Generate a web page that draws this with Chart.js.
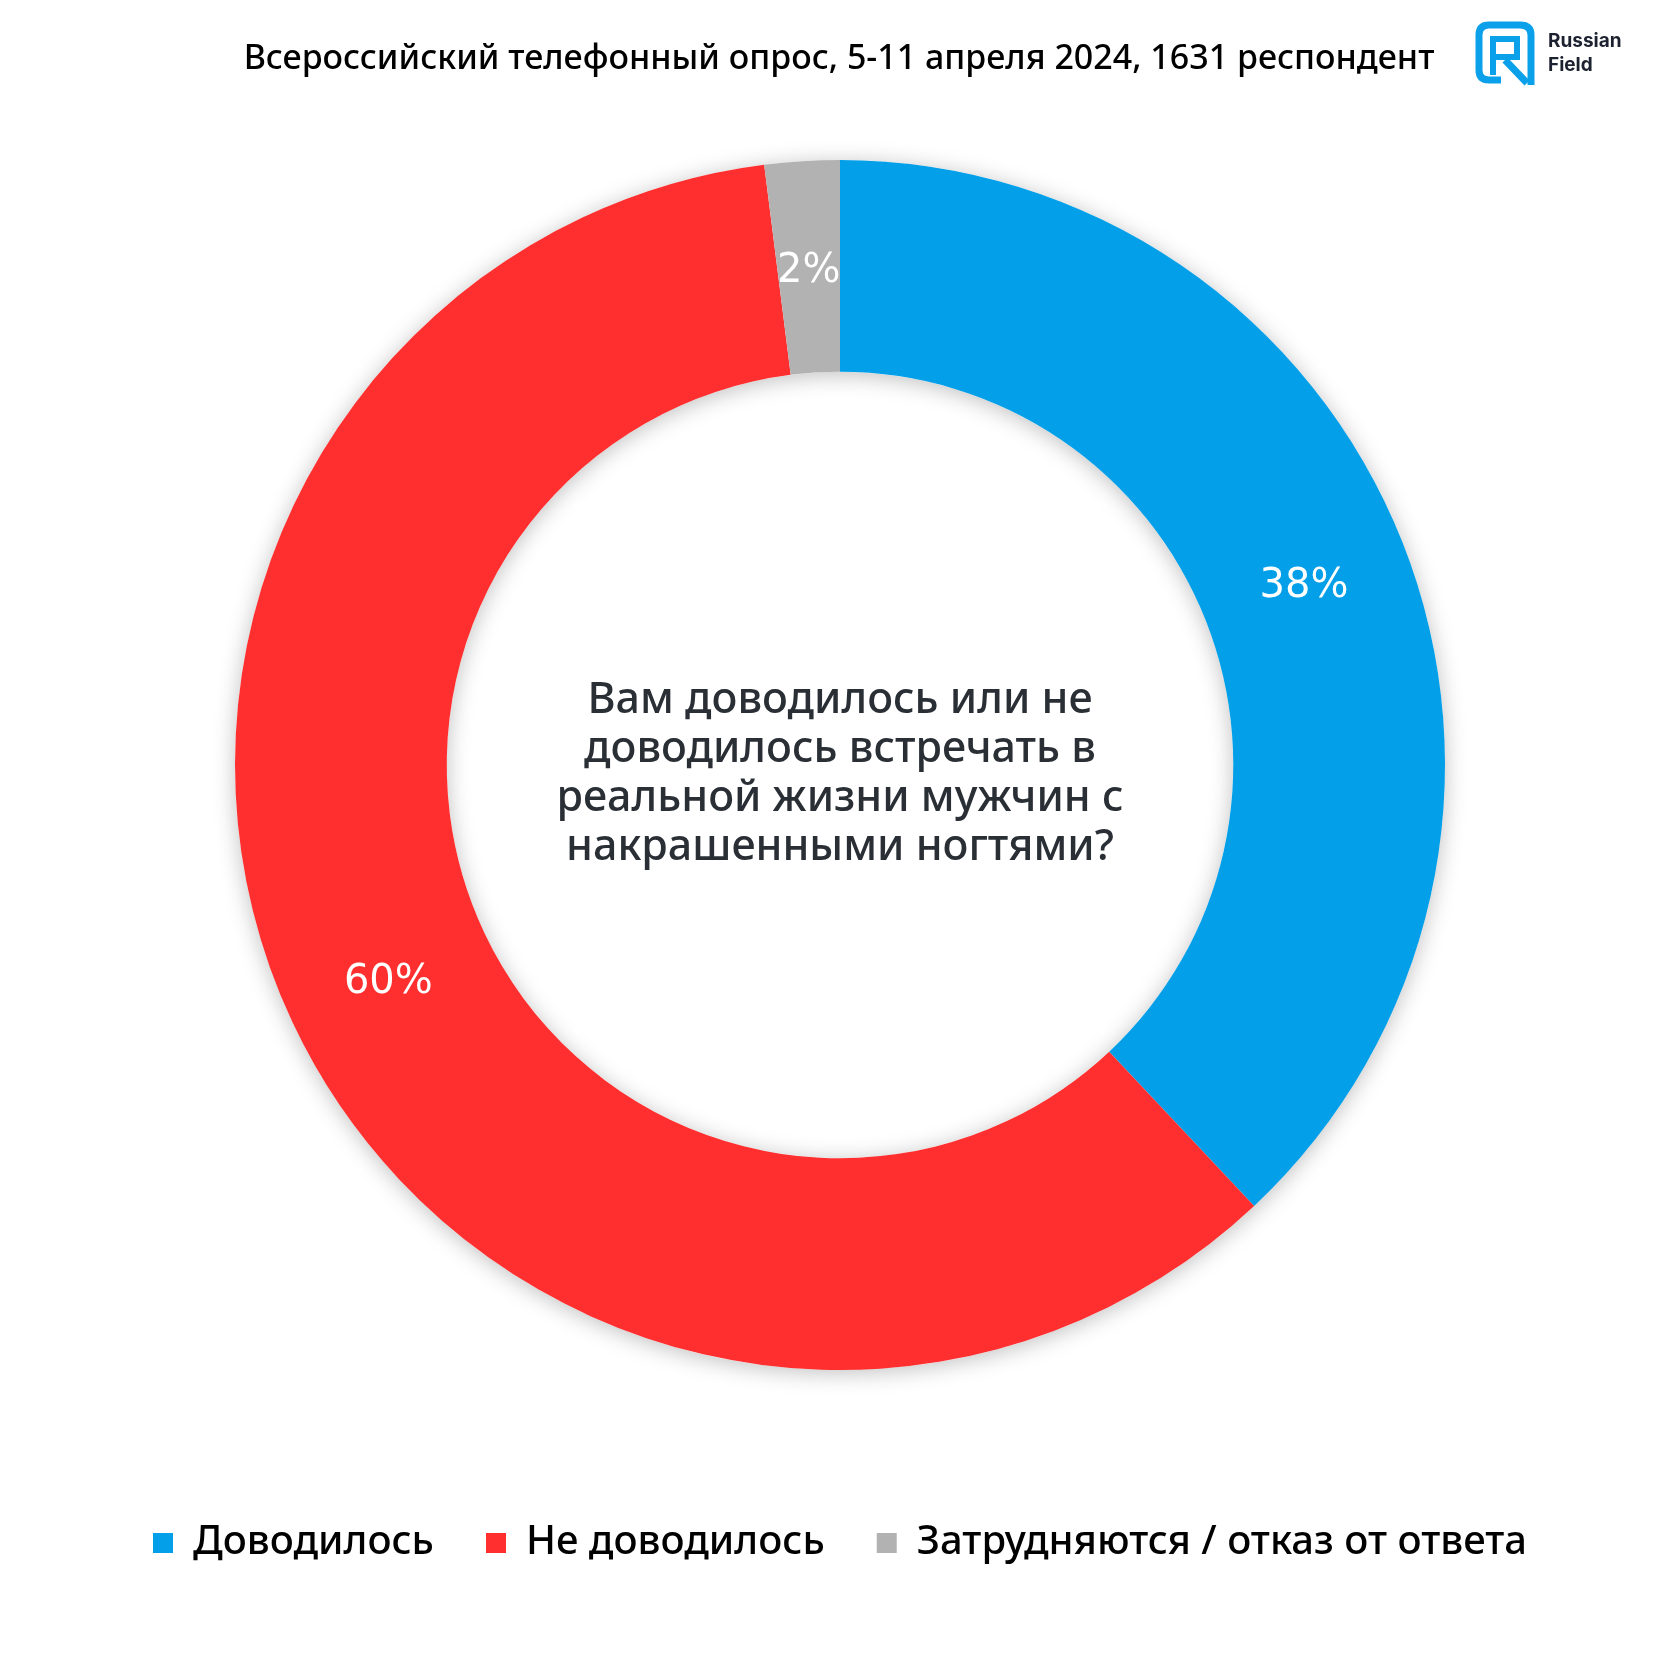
<!DOCTYPE html>
<html lang="ru">
<head>
<meta charset="utf-8">
<title>Russian Field</title>
<script src="https://cdn.jsdelivr.net/npm/chart.js@4.4.1/dist/chart.umd.min.js"></script>
<style>
  html, body { margin: 0; padding: 0; background: #fff; }
  #wrap { position: relative; width: 1680px; height: 1680px; overflow: hidden; }
  #chart { position: absolute; left: 0; top: 0; }
  .title {
    position: absolute; left: 0; width: 1678px; top: 33px; text-align: center;
    font-family: "Noto Sans", sans-serif; font-weight: 500; font-size: 34px; color: #000; white-space: nowrap;
  }
  .logo { position: absolute; left: 1474px; top: 20px; }
  .logo-text {
    position: absolute; left: 1548px; top: 29px;
    font-family: "Inter", sans-serif; font-weight: 700; font-size: 19px; line-height: 24px; color: #1d2230;
  }
  .question {
    position: absolute; left: 490px; width: 700px; top: 672px; text-align: center;
    font-family: "Noto Sans", sans-serif; font-weight: 500; font-size: 43px; line-height: 49px; color: #2a2f36;
  }
</style>
</head>
<body>
<div id="wrap">
  <canvas id="chart" width="1680" height="1680"></canvas>
  <div class="title">Всероссийский телефонный опрос, 5-11 апреля 2024, 1631 респондент</div>
  <svg class="logo" width="64" height="68" viewBox="0 0 64 68">
    <path d="M27 60 H15 Q5 60 5 50 V15 Q5 5 15 5 H46 Q57 5 57 15 V65" fill="none" stroke="#0aa0ea" stroke-width="7" stroke-linejoin="round"/>
    <path d="M19 55 V19 H43 V37 H19" fill="none" stroke="#0aa0ea" stroke-width="6"/>
    <path d="M31 40 L53 63" fill="none" stroke="#0aa0ea" stroke-width="7"/>
  </svg>
  <div class="logo-text">Russian<br>Field</div>
  <div class="question">Вам доводилось или не<br>доводилось встречать в<br>реальной жизни мужчин с<br>накрашенными ногтями?</div>
</div>
<script>
const categories = ['Доводилось', 'Не доводилось', 'Затрудняются / отказ от ответа'];
const shares = [38, 60, 2];
const sliceColors = ['#039fe9', '#ff2f2f', '#b2b2b2'];

// soft shadow under the ring
const ringShadow = {
  id: 'ringShadow',
  beforeDatasetsDraw(chart) {
    const arc = chart.getDatasetMeta(0).data[0];
    if (!arc) return;
    const { x, y, outerRadius, innerRadius } = arc.getProps(['x', 'y', 'outerRadius', 'innerRadius'], true);
    const ctx = chart.ctx;
    ctx.save();
    ctx.shadowColor = 'rgba(0, 0, 0, 0.25)';
    ctx.shadowBlur = 22;
    ctx.shadowOffsetY = 3;
    ctx.fillStyle = '#fff';
    ctx.beginPath();
    ctx.arc(x, y, outerRadius, 0, Math.PI * 2);
    ctx.arc(x, y, innerRadius, 0, Math.PI * 2, true);
    ctx.fill('evenodd');
    ctx.restore();
  }
};

// percentage labels inside the slices
const sliceLabels = {
  id: 'sliceLabels',
  afterDatasetsDraw(chart) {
    const ctx = chart.ctx;
    const meta = chart.getDatasetMeta(0);
    ctx.save();
    ctx.font = '40px "DejaVu Sans", sans-serif';
    ctx.fillStyle = '#fff';
    ctx.textAlign = 'center';
    ctx.textBaseline = 'middle';
    meta.data.forEach((arc, i) => {
      const p = arc.getCenterPoint();
      ctx.fillText(shares[i] + '%', p.x, p.y + 5);
    });
    ctx.restore();
  }
};

new Chart(document.getElementById('chart'), {
  type: 'doughnut',
  data: {
    labels: categories,
    datasets: [{
      data: shares,
      backgroundColor: sliceColors,
      borderWidth: 0,
      radius: 605
    }]
  },
  options: {
    responsive: false,
    animation: false,
    cutout: '65%',
    layout: { padding: { top: 59, bottom: 107, left: 0, right: 0 } },
    plugins: {
      tooltip: { enabled: false },
      legend: {
        position: 'bottom',
        labels: {
          color: '#000',
          boxWidth: 20,
          boxHeight: 20,
          padding: 52,
          font: { family: '"Noto Sans", sans-serif', size: 40, weight: '500' }
        }
      }
    }
  },
  plugins: [ringShadow, sliceLabels]
});
</script>
</body>
</html>
